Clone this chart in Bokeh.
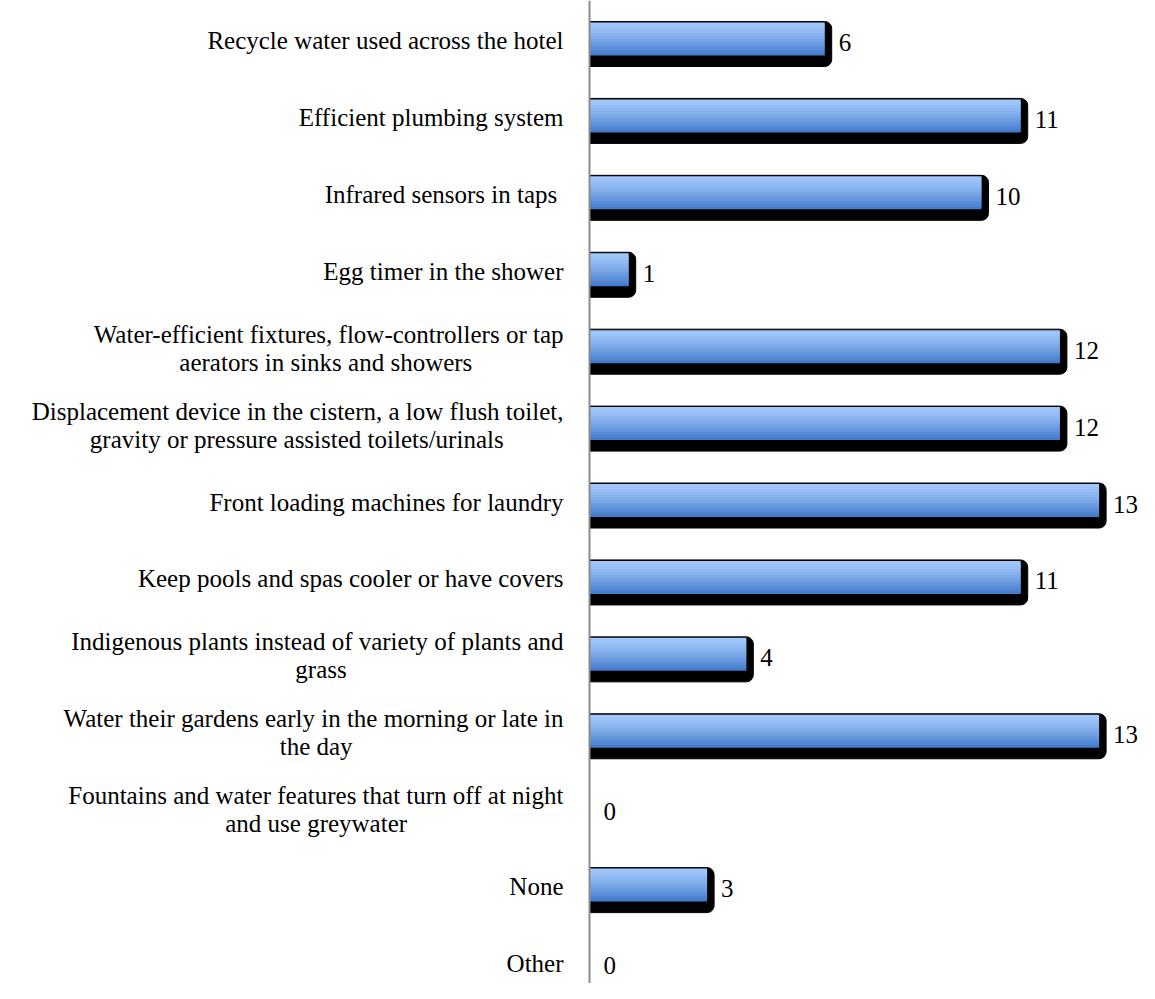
from bokeh.plotting import figure
from bokeh.models import ColumnDataSource, Range1d, Span
from bokeh.core.properties import value
from bokeh.embed import file_html
from bokeh.resources import INLINE

# ---------------- data ----------------
categories = [
    "Recycle water used across the hotel",
    "Efficient plumbing system",
    "Infrared sensors in taps ",
    "Egg timer in the shower",
    "Water-efficient fixtures, flow-controllers or tap\naerators in sinks and showers",
    "Displacement device in the cistern, a low flush toilet,\ngravity or pressure assisted toilets/urinals",
    "Front loading machines for laundry",
    "Keep pools and spas cooler or have covers",
    "Indigenous plants instead of variety of plants and\ngrass",
    "Water their gardens early in the morning or late in\nthe day",
    "Fountains and water features that turn off at night\nand use greywater",
    "None",
    "Other",
]
counts = [6, 11, 10, 1, 12, 12, 13, 11, 4, 13, 0, 3, 0]

# ---------------- layout ----------------
W, H = 1139, 983
AXIS_PX = 589          # pixel position of the category axis
PXU = 39.2             # pixels per unit on the value scale
ROW = 76.92            # pixels per category row
FIRST = 40             # pixel position of the first row centre
n = len(categories)
FONT = value("Liberation Serif")
FSZ = 25
FS = "%dpx" % FSZ

p = figure(width=W, height=H, output_backend="svg", toolbar_location=None,
           x_range=Range1d(-AXIS_PX / PXU, (W - AXIS_PX) / PXU),
           y_range=Range1d((H - FIRST) / ROW, -FIRST / ROW),
           x_axis_location=None, y_axis_location=None,
           min_border=0, outline_line_color=None, background_fill_color="white")
p.grid.visible = False

centers = list(range(n))
bar_idx = [i for i, c in enumerate(counts) if c > 0]
bc = [centers[i] for i in bar_idx]
bv = [counts[i] for i in bar_idx]

# shadow
shadow = ColumnDataSource(dict(
    left=[0] * len(bv),
    right=[v + 7 / PXU for v in bv],
    top=[c - 19 / ROW for c in bc],
    bottom=[c + 26 / ROW for c in bc],
))
p.quad(left="left", right="right", top="top", bottom="bottom", source=shadow,
       fill_color="black", line_color="black", border_radius=(0, 7, 7, 0))

# gradient bar (stacked strips)
c_top = (160, 198, 250)
c_bot = (68, 124, 204)
NS = 12
top_off, bot_off = -18, 15
strip_h = (bot_off - top_off) / NS
sl, sr, st, sb, sc = [], [], [], [], []
for k in range(NS):
    t = k / (NS - 1)
    t = t ** 1.3
    col = "#%02x%02x%02x" % tuple(int(round(a + (b - a) * t)) for a, b in zip(c_top, c_bot))
    for c, v in zip(bc, bv):
        sl.append(0)
        sr.append(v)
        st.append(c + (top_off + k * strip_h) / ROW)
        sb.append(c + (top_off + (k + 1) * strip_h + (1.5 if k < NS - 1 else 0)) / ROW)
        sc.append(col)
strips = ColumnDataSource(dict(left=sl, right=sr, top=st, bottom=sb, color=sc))
p.quad(left="left", right="right", top="top", bottom="bottom", source=strips,
       fill_color="color", line_color=None)

# category labels
LBL_GAP = 26
rx = -LBL_GAP / PXU
lx, ly, lt, la = [], [], [], []
for c, cat in zip(centers, categories):
    lines = cat.split("\n")
    if len(lines) == 1:
        lx.append(rx); ly.append(c); lt.append(lines[0]); la.append("right")
    else:
        w1 = len(lines[0]) * 0.388 * FSZ
        lx.append(rx); ly.append(c - 14 / ROW); lt.append(lines[0]); la.append("right")
        lx.append(rx - (w1 / 2) / PXU); ly.append(c + 14 / ROW); lt.append(lines[1]); la.append("center")
labels = ColumnDataSource(dict(x=lx, y=ly, text=lt, align=la))
p.text(x="x", y="y", text="text", source=labels, text_align="align",
       text_baseline="middle", text_font=FONT, text_font_size=FS, text_color="black")

# value labels
vals = ColumnDataSource(dict(x=counts, y=centers, text=[str(c) for c in counts]))
p.text(x="x", y="y", text="text", source=vals, x_offset=14, y_offset=2,
       text_align="left", text_baseline="middle", text_font=FONT,
       text_font_size=FS, text_color="black")

# axis line
p.add_layout(Span(location=0, dimension="height", line_color="#8c8c8c", line_width=2))

open("out.html", "w").write(file_html(p, INLINE))
